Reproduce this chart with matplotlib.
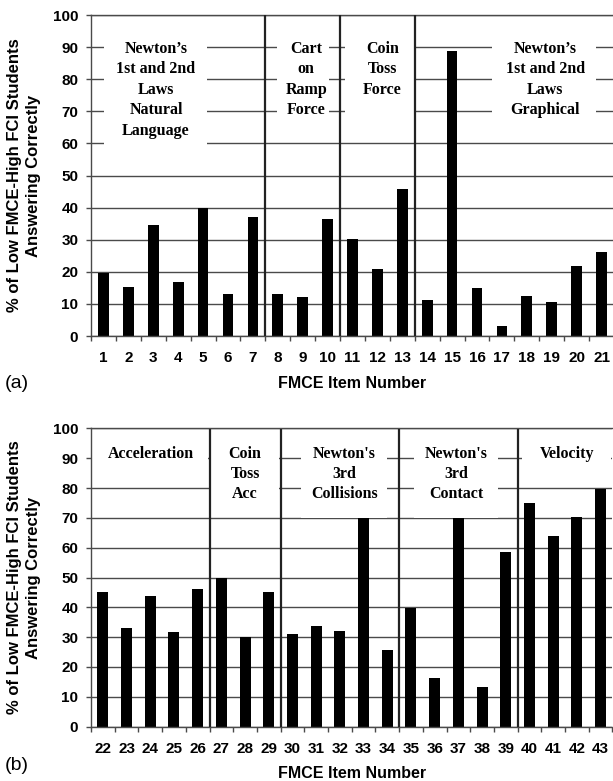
import numpy as np
import matplotlib
matplotlib.use("Agg")
import matplotlib.pyplot as plt
from matplotlib.patches import Rectangle

# --- data ---
items_a = list(range(1, 22))
pct_a = [19.6, 15.3, 34.5, 16.7, 39.9, 13.0, 37.0, 13.2, 12.3, 36.4, 30.3,
         20.8, 45.8, 11.2, 88.9, 15.1, 3.0, 12.5, 10.5, 21.7, 26.2]
items_b = list(range(22, 44))
pct_b = [45.3, 33.1, 43.8, 31.7, 46.1, 50.0, 30.2, 45.3, 31.0, 33.6, 32.1,
         69.8, 25.8, 39.9, 16.3, 69.8, 13.1, 58.7, 74.9, 64.0, 70.2, 79.8]

groups_a = ["Newton\u2019s\n1st and 2nd\nLaws\nNatural\nLanguage",
            "Cart\non\nRamp\nForce",
            "Coin\nToss\nForce",
            "Newton\u2019s\n1st and 2nd\nLaws\nGraphical"]
group_last_a = [7, 10, 13, 21]
groups_b = ["Acceleration", "Coin\nToss\nAcc", "Newton's\n3rd\nCollisions",
            "Newton's\n3rd\nContact", "Velocity"]
group_last_b = [26, 29, 34, 39, 43]

y_ticks = list(range(0, 101, 10))

# label placement: (text centre, white box x0, x1, box bottom), bar-index units
place_a = [(2.11, 0.02, 4.15, 56.5), (8.14, 6.95, 9.05, 65.0),
           (11.2, 9.68, 12.45, 67.0), (17.74, 15.6, 19.78, 65.0)]
place_b = [(2.03, -0.45, 4.45, 86.0), (6.0, 4.55, 7.45, 75.0),
           (10.19, 8.36, 12.0, 70.0), (14.9, 13.12, 16.67, 70.0),
           (19.6, 17.67, 21.44, 86.0)]

SANS = "Liberation Sans"
SERIF = "Liberation Serif"
GRID = "#4a4a4a"


def draw_panel(ax, items, pct, names, last, place, first_base, step, bar_w,
               xlab_pad):
    n = len(items)
    x = np.arange(n)
    ax.bar(x, pct, width=bar_w, color="black", zorder=2)
    ax.set_xlim(-0.5, n - 0.5)
    ax.set_ylim(0, 100)
    ax.set_axisbelow(True)
    ax.yaxis.grid(True, color=GRID, lw=1.0)

    # ticks at category edges, labels at centres
    ax.set_xticks(np.arange(n + 1) - 0.5)
    ax.set_xticklabels([])
    ax.set_xticks(x, minor=True)
    ax.set_xticklabels([str(i) for i in items], minor=True,
                       fontfamily=SANS, fontweight="bold", fontsize=11)
    ax.tick_params(axis="x", which="major", length=3.6, width=1, color=GRID)
    ax.tick_params(axis="x", which="minor", length=0, pad=11)
    ax.set_yticks(y_ticks)
    ax.set_yticklabels([str(v) for v in y_ticks], fontfamily=SANS,
                       fontweight="bold", fontsize=11)
    ax.tick_params(axis="y", length=3.6, width=1, color=GRID, pad=5.5)

    for s in ["left", "top", "bottom"]:
        ax.spines[s].set_color(GRID)
        ax.spines[s].set_linewidth(1.0)
    ax.spines["right"].set_visible(False)

    # section separators
    for v in last[:-1]:
        ax.axvline(items.index(v) + 0.5, color="#222222", lw=1.6, zorder=4)

    # white label boxes and stacked text
    for name, (xc, x0, x1, y0) in zip(names, place):
        ax.add_patch(Rectangle((x0, y0), x1 - x0, 96 - y0, facecolor="white",
                               edgecolor="none", zorder=1))
        for i, line in enumerate(name.split("\n")):
            ax.text(xc, first_base - i * step, line, ha="center",
                    va="baseline", fontfamily=SERIF, fontweight="bold",
                    fontsize=11.5, zorder=3)

    ax.set_xlabel("FMCE Item Number", fontfamily=SANS, fontweight="bold",
                  fontsize=11.5, labelpad=xlab_pad)


fig = plt.figure(figsize=(6.13, 7.81), dpi=100)
W, H = 613.0, 781.0
ax1 = fig.add_axes([91 / W, 1 - 336 / H, 523 / W, 321 / H])
ax2 = fig.add_axes([91 / W, 1 - 726.5 / H, 521.4 / W, 298 / H])

draw_panel(ax1, items_a, pct_a, groups_a, group_last_a, place_a, 88.3, 6.4,
           0.43, 8)
draw_panel(ax2, items_b, pct_b, groups_b, group_last_b, place_b, 90.0, 6.6,
           0.46, 7)

ylab = "% of Low FMCE-High FCI Students\nAnswering Correctly"
for yc in [175.5, 577.5]:
    fig.text(24 / W, 1 - yc / H, ylab, rotation=90, ha="center", va="center",
             multialignment="center", fontfamily=SANS, fontweight="bold",
             fontsize=12, linespacing=1.4)

fig.text(5 / W, 1 - 384 / H, "(a)", ha="left", va="center", fontfamily=SANS,
         fontsize=14)
fig.text(5 / W, 1 - 765 / H, "(b)", ha="left", va="center", fontfamily=SANS,
         fontsize=14)

fig.savefig("out.png", dpi=100)
